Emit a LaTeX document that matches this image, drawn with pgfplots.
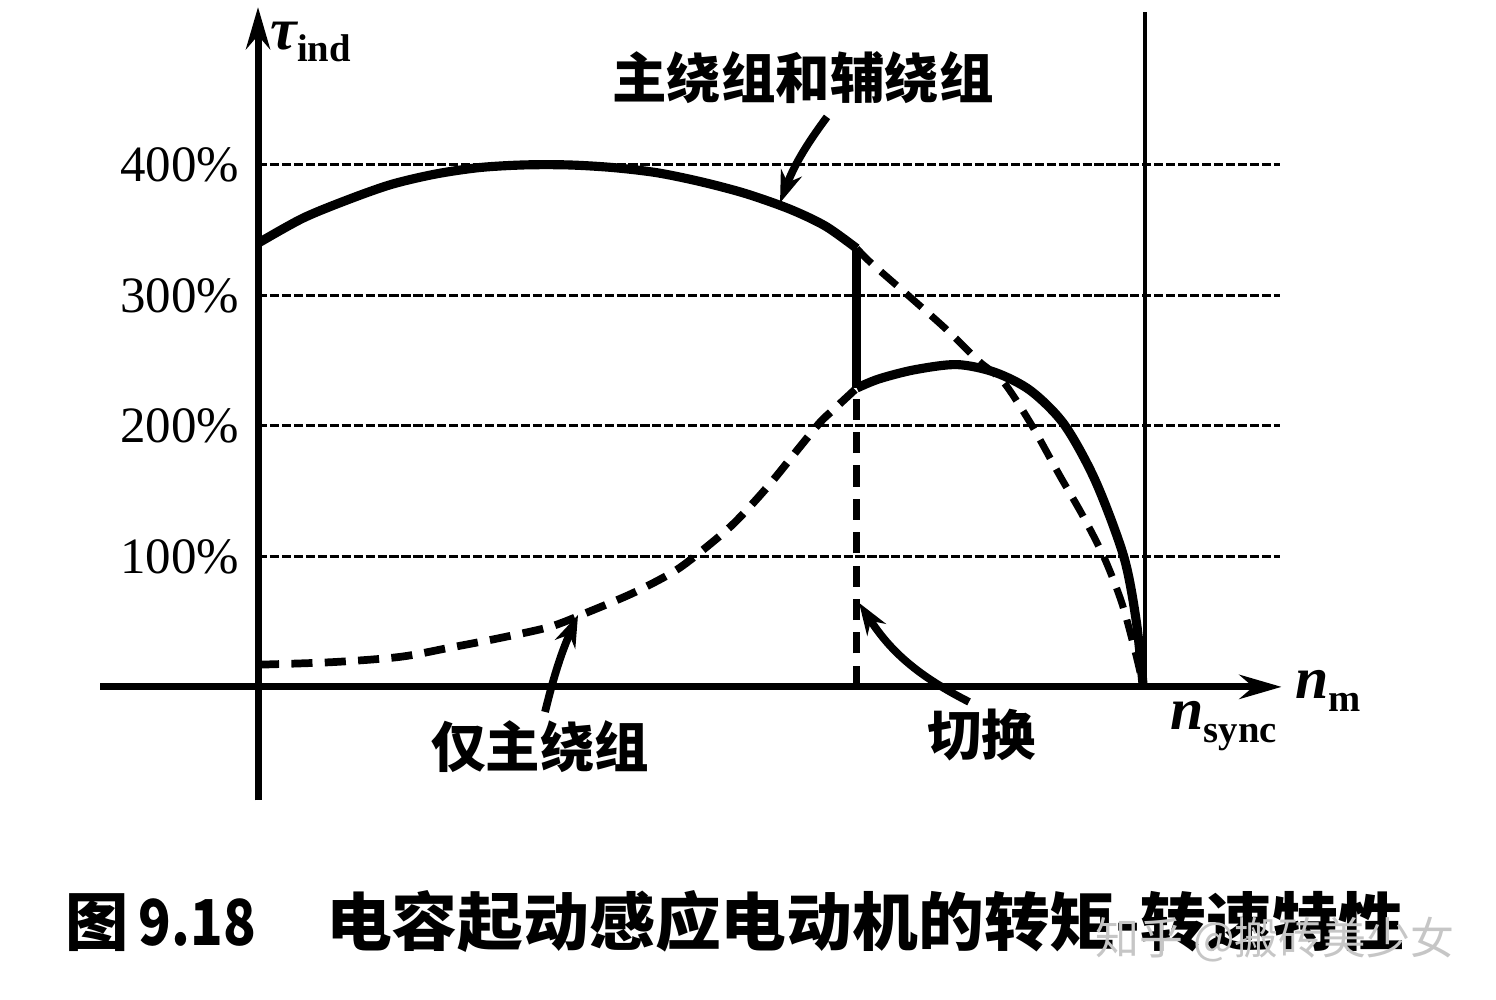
\documentclass[border=0pt]{standalone}
\usepackage{fontspec}
\setmainfont{Liberation Serif}
\newfontfamily\cjk{Noto Sans CJK SC}
\usepackage{pgfplots}
\pgfplotsset{compat=1.18}
\usetikzlibrary{arrows.meta}

\begin{document}
\begin{tikzpicture}
\begin{axis}[
 x=88.7mm, y=0.1305mm,
 xmin=0, xmax=1.152, ymin=-87, ymax=521,
 axis lines=left, axis line style={draw=none},
 xtick=\empty,
 ytick={100,200,300,400},
 yticklabels={100\%,200\%,300\%,400\%},
 major tick length=0pt,
 yticklabel style={font=\fontsize{14.5}{14.5}\selectfont, anchor=east, inner sep=0pt, xshift=-1.8mm},
 ymajorgrids,
 grid style={black, line width=0.85pt, dash pattern=on 2.6pt off 0.8pt},
 clip=false,
]
% page frame
\path (axis cs:-0.2909,526.4) rectangle (axis cs:1.3957,-239.8);

% n_sync vertical line
\addplot[black, line width=1pt] coordinates {(1,0) (1,517)};

% main + auxiliary winding (solid, before switch)
\addplot[black, line width=2.6pt, smooth] coordinates {
(0,340) (0.05,359) (0.10,373) (0.15,385) (0.20,393) (0.25,398) (0.30,400)
(0.35,400) (0.40,398) (0.45,394) (0.50,387) (0.55,378) (0.60,366) (0.64,353) (0.675,336)};
% switch drop
\addplot[black, line width=2.6pt] coordinates {(0.675,336) (0.675,229)};
% main winding only after switch (solid)
\addplot[black, line width=2.6pt, smooth, tension=0.5] coordinates {
(0.675,229) (0.700,236) (0.740,243) (0.788,247) (0.831,241) (0.871,227)
(0.909,201) (0.944,158) (0.976,100) (0.990,51) (0.998,0)};

% main + auxiliary continued (dashed)
\addplot[black, line width=2pt, dash pattern=on 6pt off 3.5pt, smooth, tension=0.5] coordinates {
(0.675,336) (0.691,325) (0.733,300) (0.776,274) (0.812,250) (0.840,234)
(0.871,202) (0.903,163) (0.930,131) (0.954,99) (0.974,64) (0.990,24) (0.998,0)};
% main winding only (dashed, before switch)
\addplot[black, line width=2.2pt, dash pattern=on 6pt off 3.5pt, smooth, tension=0.5] coordinates {
(0,17) (0.085,19) (0.160,23) (0.216,30) (0.273,37.5) (0.329,46) (0.371,57)
(0.423,72) (0.468,88) (0.498,103) (0.536,125) (0.574,153) (0.611,184)
(0.634,203) (0.648,212) (0.675,229)};
% switch dashed vertical
\addplot[black, line width=2pt, dash pattern=on 6pt off 3.5pt] coordinates {(0.675,0) (0.675,222)};

% axes
\draw[line width=2pt, -{Stealth[length=4.2mm,width=2.4mm]}] (axis cs:-0.178,0) -- (axis cs:1.154,0);
\draw[line width=2pt, -{Stealth[length=4.2mm,width=2.4mm]}] (axis cs:0,-87) -- (axis cs:0,521);

% axis labels
\node[anchor=west, inner sep=0] at (axis cs:0.0135,494)
 {\fontsize{17}{17}\selectfont\bfseries\itshape τ\raisebox{-0.45ex}{\fontsize{11}{11}\selectfont\upshape\bfseries ind}};
\node[anchor=west, inner sep=0] at (axis cs:1.169,-3)
 {\fontsize{17}{17}\selectfont\bfseries\itshape n\raisebox{-0.5ex}{\fontsize{11}{11}\selectfont\upshape\bfseries m}};
\node[anchor=west, inner sep=0] at (axis cs:1.028,-30)
 {\fontsize{17}{17}\selectfont\bfseries\itshape n\raisebox{-0.5ex}{\fontsize{11}{11}\selectfont\upshape\bfseries sync}};

% annotations
\node[font=\cjk\bfseries\fontsize{15.5}{15.5}\selectfont] at (axis cs:0.6144,466.7) {主绕组和辅绕组};
\draw[line width=2.2pt, -{Stealth[length=3.2mm,width=2.2mm]}] (axis cs:0.6415,436.8) to[bend right=8] (axis cs:0.5885,370.9);

\node[font=\cjk\bfseries\fontsize{15.5}{15.5}\selectfont] at (axis cs:0.318,-46) {仅主绕组};
\draw[line width=2.2pt, -{Stealth[length=3.2mm,width=2.2mm]}] (axis cs:0.3236,-19.2) to[bend left=5] (axis cs:0.3608,55.2);

\node[font=\cjk\bfseries\fontsize{15.5}{15.5}\selectfont] at (axis cs:0.816,-36.8) {切换};
\draw[line width=2.2pt, -{Stealth[length=3.2mm,width=2.2mm]}] (axis cs:0.8016,-11.5) to[bend left=15] (axis cs:0.6776,64.4);

% caption
\node[anchor=west, inner sep=0, font=\cjk\bfseries\fontsize{18}{18}\selectfont] at (axis cs:-0.2176,-180.1)
 {图\hspace{1mm}\scalebox{0.85}[1]{9.18}\hspace{7mm}\scalebox{1.04}[1]{电容起动感应电动机的转矩-转速特性}};
% watermark
\node[anchor=west, inner sep=0, font=\cjk\fontsize{12.5}{12.5}\selectfont, text=gray!45] at (axis cs:0.9436,-193.9)
 {知乎 @搬砖美少女};
\end{axis}
\end{tikzpicture}
\end{document}
